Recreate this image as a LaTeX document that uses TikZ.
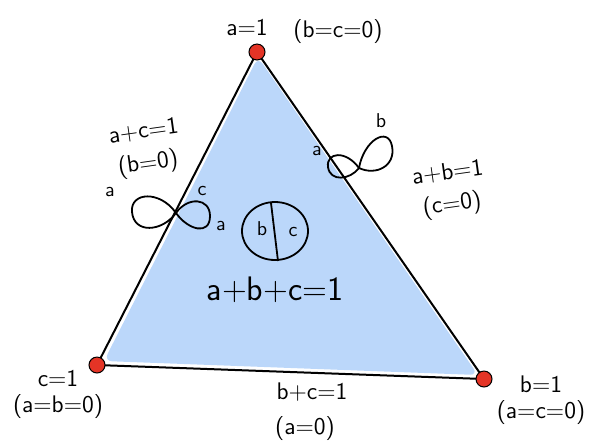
\documentclass[tikz,border=0pt]{standalone}
\usepackage{tikz}
\usetikzlibrary{positioning}
\definecolor{SimplexBlue}{RGB}{187, 215, 250}
\definecolor{DotRed}{RGB}{228, 52, 38}
\tikzset{
    edge/.style={line width=1pt, black},
    lobe/.style={line width=0.9pt, black},
    vdot/.style={circle, fill=DotRed, draw=black, line width=0.5pt, minimum size=8pt, inner sep=0pt},
    biglabel/.style={font=\sffamily\fontsize{12}{13}\selectfont, inner sep=0pt, align=center},
    tiltlabel/.style={biglabel, font=\sffamily\fontsize{12}{16}\selectfont},
    hugelabel/.style={font=\sffamily\fontsize{17}{19}\selectfont, inner sep=1pt},
    smalllabel/.style={font=\sffamily\fontsize{10}{12}\selectfont, inner sep=1pt}
}

\begin{document}
\begin{tikzpicture}[x=0.5pt, y=-0.5pt]
            \useasboundingbox (0,0) rectangle (589,441);
            % corners of the simplex
            \coordinate (va) at (257,52);
            \coordinate (vb) at (484,379);
            \coordinate (vc) at (97,365);
            % blue region
            \fill[SimplexBlue, rounded corners=4pt] (258,57) -- (478,375) -- (104,361) -- cycle;
            \draw[edge] (va) -- (vb) -- (vc) -- cycle;
            \node[vdot] (da) at (va) {};
            \node[vdot] (db) at (vb) {};
            \node[vdot] (dc) at (vc) {};
            % corner labels
            \node[biglabel] (la) at (247,27) {a=1};
            \node[biglabel] (lbc) at (338,32) {(b=c=0)};
            \node[biglabel] (lc) at (58,394) {c=1\\(a=b=0)};
            \node[biglabel] (lb) at (541,400) {b=1\\(a=c=0)};
            % edge labels
            \node[tiltlabel, rotate=8] (lac) at (146,149) {a+c=1\\(b=0)};
            \node[tiltlabel, rotate=8] (lab) at (450,190) {a+b=1\\(c=0)};
            \node[biglabel] (lbcs) at (312,392) {b+c=1};
            \node[biglabel] (lbc0) at (305,428) {(a=0)};
            % left figure eight
            \coordinate (xl) at (176,213);
            \draw[lobe] (xl) .. controls (160,190) and (130,192) .. (132,212) .. controls (134,234) and (162,232) .. (xl);
            \draw[lobe] (xl) .. controls (188,196) and (210,198) .. (210,216) .. controls (210,236) and (188,230) .. (xl);
            \node[smalllabel] (ela) at (110,192) {a};
            \node[smalllabel] (elc) at (202,191) {c};
            % right figure eight
            \coordinate (xr) at (359,168);
            \draw[lobe] (xr) .. controls (346,150) and (326,152) .. (328,167) .. controls (330,182) and (350,180) .. (xr);
            \draw[lobe] (xr) .. controls (364,140) and (388,126) .. (392,146) .. controls (396,166) and (376,176) .. (xr);
            \node[smalllabel] (era) at (317,151) {a};
            \node[smalllabel] (erb) at (381,121) {b};
            % interior disc
            \coordinate (disc) at (275,231);
            \draw[lobe] (disc) ellipse (33 and 29);
            \draw[lobe] (271,203) -- (278,261);
            \node[smalllabel] (dca) at (221,226) {a};
            \node[smalllabel] (dcb) at (262,229) {b};
            \node[smalllabel] (dcc) at (293,232) {c};
            \node[hugelabel] (lsum) at (275,290) {a+b+c=1};
        \end{tikzpicture}
\end{document}
